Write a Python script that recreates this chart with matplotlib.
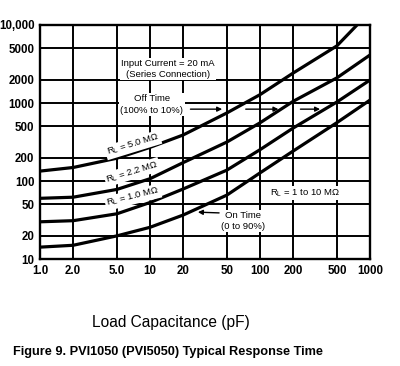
import matplotlib
matplotlib.use("Agg")
import matplotlib.pyplot as plt
from matplotlib import font_manager
from matplotlib.ticker import NullLocator

# load capacitance (pF) at the grid lines
cap_pf = [1, 2, 5, 10, 20, 50, 100, 200, 500, 1000]
# R_L = 5.0 MOhm leaves the top of the chart near 760 pF
cap_5m0 = [1, 2, 5, 10, 20, 50, 100, 200, 500, 762]
t_5m0 = [134, 149, 196, 270, 389, 746, 1279, 2420, 5400, 10000]
t_2m2 = [60, 62, 78, 107, 172, 316, 557, 1050, 2100, 4125]
t_1m0 = [30, 31, 38, 53, 79, 138, 252, 477, 1030, 1970]
t_on = [14.2, 15, 19.8, 25.5, 36.6, 66, 127, 242, 560, 1090]

xtick_vals = [1, 2, 5, 10, 20, 50, 100, 200, 500, 1000]
xtick_labels = ["1.0", "2.0", "5.0", "10", "20", "50", "100", "200", "500", "1000"]
ytick_vals = [10, 20, 50, 100, 200, 500, 1000, 2000, 5000, 10000]
ytick_labels = ["10", "20", "50", "100", "200", "500", "1000", "2000", "5000", "10,000"]

names = {f.name for f in font_manager.fontManager.ttflist}
if "Liberation Sans Narrow" in names:
    cap_family, cap_size = "Liberation Sans Narrow", 10.5
else:
    cap_family, cap_size = "Liberation Sans", 9.2

plt.rcParams['font.family'] = ['Liberation Sans', 'DejaVu Sans']

fig = plt.figure(figsize=(4, 3.66), dpi=100)
ax = fig.add_axes([0.1, 0.2923, 0.825, 0.6394])
ax.set_xscale("log")
ax.set_yscale("log")
ax.set_xlim(1, 1000)
ax.set_ylim(10, 10000)

ax.set_xticks(xtick_vals)
ax.set_xticklabels(xtick_labels)
ax.set_yticks(ytick_vals)
ax.set_yticklabels(ytick_labels)
ax.xaxis.set_minor_locator(NullLocator())
ax.yaxis.set_minor_locator(NullLocator())
ax.tick_params(length=0, labelsize=8.3, pad=4)
for lab in ax.get_xticklabels() + ax.get_yticklabels():
    lab.set_fontweight("bold")

ax.grid(True, color="black", linewidth=1.4)
for s in ax.spines.values():
    s.set_linewidth(1.7)

ax.plot(cap_5m0, t_5m0, color="black", linewidth=2.3, zorder=3)
ax.plot(cap_pf, t_2m2, color="black", linewidth=2.3, zorder=3)
ax.plot(cap_pf, t_1m0, color="black", linewidth=2.3, zorder=3)
ax.plot(cap_pf, t_on, color="black", linewidth=2.3, zorder=3)

box = dict(facecolor="white", edgecolor="none", pad=1)
fs = 6.8
ax.text(14.6, 2730, "Input Current = 20 mA\n(Series Connection)", ha="center", va="center",
        fontsize=fs, bbox=box, zorder=4, linespacing=1.15)
ax.text(10.4, 958, "Off Time\n(100% to 10%)", ha="center", va="center",
        fontsize=fs, bbox=box, zorder=4, linespacing=1.3)
ax.text(7.0, 289, r"$\mathregular{R_L}$ = 5.0 MΩ", ha="center", va="center", rotation=17,
        fontsize=fs, bbox=box, zorder=4)
ax.text(6.9, 130, r"$\mathregular{R_L}$ = 2.2 MΩ", ha="center", va="center", rotation=17,
        fontsize=fs, bbox=box, zorder=4)
ax.text(7.0, 62, r"$\mathregular{R_L}$ = 1.0 MΩ", ha="center", va="center", rotation=14,
        fontsize=fs, bbox=box, zorder=4)
ax.text(256, 70, r"$\mathregular{R_L}$ = 1 to 10 MΩ", ha="center", va="center",
        fontsize=fs, bbox=box, zorder=4)
ax.text(70, 30.7, "On Time\n(0 to 90%)", ha="center", va="center",
        fontsize=fs, bbox=box, zorder=4, linespacing=1.3)

arrow = dict(arrowstyle="-|>", color="black", lw=1.0, mutation_scale=7)
ax.annotate("", xy=(48, 834), xytext=(22, 834), arrowprops=arrow, zorder=5)
ax.annotate("", xy=(156, 834), xytext=(70, 834), arrowprops=arrow, zorder=5)
ax.annotate("", xy=(373, 834), xytext=(220, 834), arrowprops=arrow, zorder=5)
ax.annotate("", xy=(25.7, 40), xytext=(45, 38.9), arrowprops=arrow, zorder=5)

fig.text(171 / 400, 1 - 322 / 366, "Load Capacitance (pF)", ha="center", va="center",
         fontsize=11.2)
fig.text(13 / 400, 1 - 352 / 366, "Figure 9. PVI1050 (PVI5050) Typical Response Time",
         ha="left", va="center", fontsize=cap_size, fontweight="bold", family=cap_family)

fig.savefig("out.png", dpi=100)
